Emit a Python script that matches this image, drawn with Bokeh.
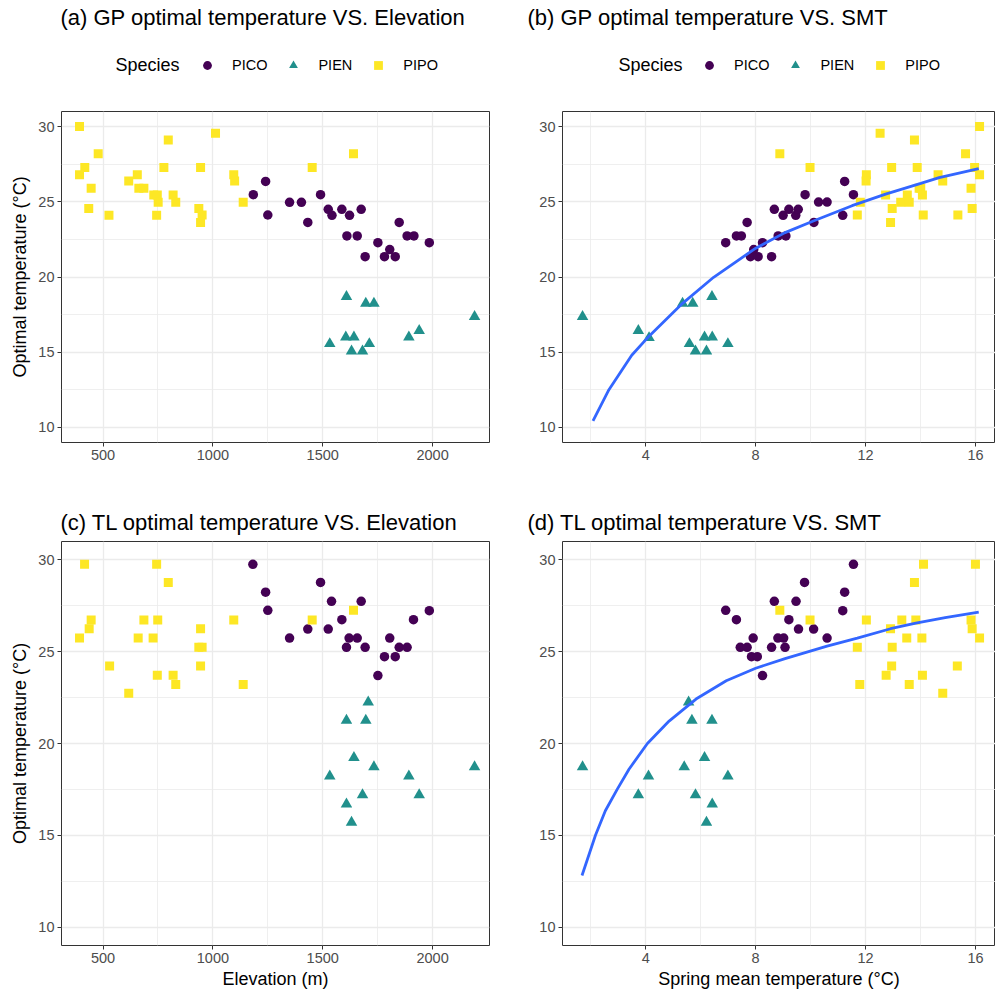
from bokeh.plotting import figure
from bokeh.models import Range1d, FixedTicker, Label, Legend, LegendItem
from bokeh.layouts import column, row
from bokeh.embed import file_html
from bokeh.resources import INLINE

FONT = "Liberation Sans"

# ---------------- data ----------------
species = ["PICO", "PIEN", "PIPO"]
y_ticks = [10, 15, 20, 25, 30]
y_minor = [12.5, 17.5, 22.5, 27.5]
elev_ticks = [500, 1000, 1500, 2000]
elev_minor = [750, 1250, 1750]
smt_ticks = [4, 8, 12, 16]
smt_minor = [2, 6, 10, 14]

# (a) GP optimal temperature vs elevation
a_pico_x = [1184, 1240, 1250, 1349, 1403, 1432, 1490, 1525, 1542, 1587, 1610, 1622,
            1657, 1675, 1693, 1751, 1781, 1805, 1830, 1848, 1884, 1915, 1985]
a_pico_y = [25.47, 26.35, 24.12, 24.96, 24.96, 23.63, 25.47, 24.5, 24.1, 24.5, 22.73, 24.1,
            22.73, 24.5, 21.35, 22.28, 21.35, 21.82, 21.35, 23.63, 22.73, 22.73, 22.28]
a_pien_x = [1608, 1696, 1733, 2191, 1532, 1605, 1642, 1631, 1681, 1712, 1892, 1939]
a_pien_y = [18.7, 18.25, 18.25, 17.37, 15.56, 16.0, 16.0, 15.07, 15.07, 15.56, 16.0, 16.44]
a_pipo_x = [393, 797, 1012, 478, 417, 393, 777, 944, 656, 617, 446, 663, 686, 731, 747,
            751, 819, 831, 1095, 1099, 1138, 435, 527, 744, 936, 951, 944, 1452, 1640]
a_pipo_y = [30.0, 29.1, 29.56, 28.19, 27.28, 26.8, 27.28, 27.28, 26.8, 26.38, 25.9, 25.9,
            25.9, 25.45, 25.45, 24.96, 25.45, 24.96, 26.8, 26.38, 24.96, 24.56, 24.1, 24.1,
            24.56, 24.12, 23.63, 27.28, 28.19]

# (b) GP optimal temperature vs spring mean temperature
b_pico_x = [6.91, 7.30, 7.48, 7.69, 7.81, 7.93, 8.09, 8.25, 8.58, 8.68, 8.82, 9.10, 9.00,
            9.21, 9.46, 9.55, 9.80, 10.12, 10.29, 10.60, 11.17, 11.24, 11.56]
b_pico_y = [22.28, 22.73, 22.73, 23.63, 21.35, 21.82, 21.35, 22.28, 21.35, 24.5, 22.73,
            22.73, 24.1, 24.5, 24.1, 24.5, 25.47, 23.63, 24.98, 24.98, 24.1, 26.35, 25.47]
b_pien_x = [1.70, 3.73, 4.12, 5.34, 5.71, 6.41, 5.59, 5.81, 6.14, 6.42, 6.21, 6.99]
b_pien_y = [17.37, 16.44, 15.96, 18.25, 18.25, 18.7, 15.56, 15.07, 16.0, 16.0, 15.07, 15.56]
b_pipo_x = [8.88, 12.53, 13.78, 16.15, 15.64, 9.98, 12.95, 13.88, 15.97, 12.03, 12.02,
            14.64, 16.15, 14.81, 15.84, 13.95, 11.81, 12.73, 13.52, 14.01, 14.07, 13.28,
            13.59, 12.97, 15.88, 11.70, 14.10, 15.36, 12.91]
b_pipo_y = [28.19, 29.56, 29.11, 30.0, 28.19, 27.28, 27.28, 27.28, 27.28, 26.8, 26.38,
            26.8, 26.8, 26.38, 25.9, 25.9, 24.96, 25.45, 25.45, 25.9, 25.45, 24.96, 24.96,
            24.56, 24.56, 24.12, 24.12, 24.12, 23.63]
b_fit_x = [2.08, 2.66, 3.49, 4.12, 5.34, 6.47, 7.99, 9.07, 10.10, 11.51, 12.73, 14.01,
           14.68, 16.12]
b_fit_y = [10.43, 12.51, 14.8, 16.07, 18.25, 19.98, 21.9, 22.95, 23.72, 24.74, 25.51,
           26.22, 26.6, 27.21]

# (c) TL optimal temperature vs elevation
c_pico_x = [1182, 1240, 1250, 1349, 1432, 1490, 1540, 1525, 1587, 1675, 1620, 1657, 1608,
            1693, 1751, 1781, 1830, 1805, 1848, 1884, 1913, 1985]
c_pico_y = [29.76, 28.24, 27.25, 25.74, 26.23, 28.77, 27.74, 26.23, 26.74, 27.74, 25.74,
            25.74, 25.24, 25.24, 23.70, 24.73, 24.73, 25.74, 25.24, 25.24, 26.74, 27.23]
c_pien_x = [1707, 1608, 1696, 1642, 1733, 2191, 1532, 1892, 1681, 1939, 1608, 1631]
c_pien_y = [22.25, 21.26, 21.26, 19.23, 18.72, 18.72, 18.22, 18.22, 17.2, 17.2, 16.70, 15.7]
c_pipo_x = [416, 744, 797, 446, 437, 393, 686, 749, 660, 728, 944, 936, 951, 1095, 530,
            944, 747, 819, 831, 1138, 617, 1452, 1640]
c_pipo_y = [29.76, 29.76, 28.77, 26.72, 26.25, 25.74, 26.72, 26.72, 25.74, 25.74, 26.25,
            25.24, 25.24, 26.72, 24.22, 24.22, 23.72, 23.72, 23.21, 23.21, 22.73, 26.72, 27.25]

# (d) TL optimal temperature vs spring mean temperature
d_pico_x = [6.91, 7.30, 7.44, 7.69, 7.85, 8.06, 7.91, 8.25, 8.58, 8.68, 8.81, 9.02, 9.07,
            9.21, 9.47, 9.56, 9.78, 10.11, 10.60, 11.17, 11.24, 11.56]
d_pico_y = [27.25, 26.74, 25.24, 25.24, 24.73, 24.73, 25.74, 23.70, 25.24, 27.74, 25.74,
            25.74, 25.24, 26.74, 27.74, 26.23, 28.77, 26.23, 25.74, 27.23, 28.24, 29.76]
d_pien_x = [1.70, 3.73, 4.10, 5.56, 5.68, 6.41, 6.14, 5.40, 6.99, 5.81, 6.42, 6.21]
d_pien_y = [18.72, 17.2, 18.22, 22.25, 21.26, 21.26, 19.23, 18.72, 18.22, 17.2, 16.70, 15.7]
d_pipo_x = [8.88, 9.98, 12.03, 11.70, 11.79, 12.91, 12.97, 12.95, 12.75, 13.32, 13.50,
            13.78, 13.83, 14.05, 14.11, 13.59, 14.07, 14.81, 15.34, 16.00, 15.84, 15.88, 16.15]
d_pipo_y = [27.25, 26.72, 26.72, 25.24, 23.21, 26.25, 25.24, 24.22, 23.72, 26.72, 25.74,
            28.77, 26.72, 25.74, 29.76, 23.21, 23.72, 22.73, 24.22, 29.76, 26.72, 26.25, 25.74]
d_fit_x = [1.68, 2.17, 2.53, 2.96, 3.39, 4.06, 4.85, 5.83, 6.93, 8.00, 9.07, 10.6, 11.7,
           12.91, 13.83, 14.9, 16.12]
d_fit_y = [12.81, 15.0, 16.34, 17.5, 18.6, 20.0, 21.22, 22.42, 23.42, 24.1, 24.62, 25.3,
           25.74, 26.25, 26.56, 26.85, 27.16]

titles = ["(a) GP optimal temperature VS. Elevation", "(b) GP optimal temperature VS. SMT",
          "(c) TL optimal temperature VS. Elevation", "(d) TL optimal temperature VS. SMT"]

# ---------------- styling ----------------
COLORS = {"PICO": "#440154", "PIEN": "#21908C", "PIPO": "#FDE725"}
MARKERS = {"PICO": "circle", "PIEN": "triangle", "PIPO": "square"}
SIZES = {"PICO": 9.5, "PIEN": 11.5, "PIPO": 9}
GRID = "#EBEBEB"
DARK = "#333333"
W_LEFT, W_RIGHT = 508, 487
TOTAL_W = W_LEFT + W_RIGHT


def make_fig(width, height, mbl, mbr, mbt, mbb, xr, xt, xm):
    p = figure(width=width, height=height, output_backend="svg", toolbar_location=None,
               x_range=Range1d(*xr), y_range=Range1d(9, 31),
               min_border_left=mbl, min_border_right=mbr,
               min_border_top=mbt, min_border_bottom=mbb)
    p.title.visible = False
    xtick = FixedTicker(ticks=xt, minor_ticks=xm)
    ytick = FixedTicker(ticks=y_ticks, minor_ticks=y_minor)
    p.xaxis.ticker = xtick
    p.yaxis.ticker = ytick
    p.xgrid.ticker = xtick
    p.ygrid.ticker = ytick
    for g in (p.xgrid, p.ygrid):
        g.grid_line_color = GRID
        g.grid_line_width = 1.3
        g.minor_grid_line_color = GRID
        g.minor_grid_line_width = 0.8
    for ax in p.axis:
        ax.axis_line_color = None
        ax.major_tick_line_color = DARK
        ax.major_tick_line_width = 1
        ax.major_tick_out = 4
        ax.major_tick_in = 0
        ax.minor_tick_line_color = None
        ax.major_label_text_font = FONT
        ax.major_label_text_font_size = "14.5px"
        ax.major_label_text_color = "#4D4D4D"
        ax.major_label_standoff = 3
        ax.axis_label_text_font = FONT
        ax.axis_label_text_font_size = "18px"
        ax.axis_label_text_font_style = "normal"
        ax.axis_label_text_color = "black"
    p.xaxis.axis_label_standoff = 3
    p.yaxis.axis_label_standoff = 5
    p.outline_line_color = DARK
    p.outline_line_width = 1
    p.background_fill_color = "white"
    p.border_fill_color = "white"
    return p


def make_header(height):
    h = figure(width=TOTAL_W, height=height, output_backend="svg", toolbar_location=None,
               x_range=Range1d(0, TOTAL_W), y_range=Range1d(0, height),
               x_axis_location=None, y_axis_location=None,
               min_border_left=0, min_border_right=0, min_border_top=0, min_border_bottom=0)
    h.title.visible = False
    h.grid.visible = False
    h.outline_line_color = None
    h.background_fill_color = "white"
    h.border_fill_color = "white"
    return h


def add_points(p, data):
    for sp in species:
        xs, ys = data[sp]
        p.scatter(xs, ys, marker=MARKERS[sp], size=SIZES[sp],
                  fill_color=COLORS[sp], line_color=None)


def add_title(h, text, x, y):
    h.add_layout(Label(x=x, y=y, text=text, text_font=FONT, text_font_size="22px",
                       text_color="black", text_align="left", text_baseline="alphabetic"))


def add_legend(h, x_species, x_glyph, data):
    h.add_layout(Label(x=x_species, y=44.5, text="Species", text_font=FONT,
                       text_font_size="18px", text_color="black", text_align="left",
                       text_baseline="alphabetic"))
    items = []
    for sp in species:
        xs, ys = data[sp]
        # hidden copy of the panel's series, used only as the legend key
        r = h.scatter(xs, ys, marker=MARKERS[sp], size=SIZES[sp],
                      fill_color=COLORS[sp], line_color=None, visible=False)
        items.append(LegendItem(label=sp, renderers=[r]))
    leg = Legend(items=items, orientation="horizontal", location=(x_glyph - 11, 33),
                 glyph_width=22, glyph_height=22, label_standoff=14, spacing=15,
                 padding=0, margin=0, border_line_color=None, background_fill_alpha=0,
                 inactive_fill_alpha=0,
                 label_text_font=FONT, label_text_font_size="14.5px",
                 label_text_color="black", label_text_baseline="middle")
    h.add_layout(leg)


ELEV_RANGE = (311, 2259)
SMT_RANGE = (0.97, 16.73)

data_a = {"PICO": (a_pico_x, a_pico_y), "PIEN": (a_pien_x, a_pien_y),
          "PIPO": (a_pipo_x, a_pipo_y)}
data_b = {"PICO": (b_pico_x, b_pico_y), "PIEN": (b_pien_x, b_pien_y),
          "PIPO": (b_pipo_x, b_pipo_y)}
data_c = {"PICO": (c_pico_x, c_pico_y), "PIEN": (c_pien_x, c_pien_y),
          "PIPO": (c_pipo_x, c_pipo_y)}
data_d = {"PICO": (d_pico_x, d_pico_y), "PIEN": (d_pien_x, d_pien_y),
          "PIPO": (d_pipo_x, d_pipo_y)}

# header above panels (a) and (b): titles and legends
h_top = make_header(109)
add_title(h_top, titles[0], 60, 92)
add_title(h_top, titles[1], 527, 92)
add_legend(h_top, 115, 207, data_a)
add_legend(h_top, 618, 709, data_b)

pa = make_fig(W_LEFT, 371, 61, 19, 2, 38, ELEV_RANGE, elev_ticks, elev_minor)
pb = make_fig(W_RIGHT, 371, 54, 0, 2, 38, SMT_RANGE, smt_ticks, smt_minor)

# header above panels (c) and (d)
h_mid = make_header(59)
add_title(h_mid, titles[2], 60, 17)
add_title(h_mid, titles[3], 527, 17)

pc = make_fig(W_LEFT, 454, 61, 19, 2, 48, ELEV_RANGE, elev_ticks, elev_minor)
pd = make_fig(W_RIGHT, 454, 54, 0, 2, 48, SMT_RANGE, smt_ticks, smt_minor)

add_points(pa, data_a)
add_points(pb, data_b)
pb.line(b_fit_x, b_fit_y, line_color="#3366FF", line_width=2.8)
add_points(pc, data_c)
add_points(pd, data_d)
pd.line(d_fit_x, d_fit_y, line_color="#3366FF", line_width=2.8)

pa.yaxis.axis_label = "Optimal temperature (°C)"
pc.yaxis.axis_label = "Optimal temperature (°C)"
pc.xaxis.axis_label = "Elevation (m)"
pd.xaxis.axis_label = "Spring mean temperature (°C)"

layout = column(h_top, row(pa, pb), h_mid, row(pc, pd))

open("out.html", "w").write(file_html(layout, INLINE))
